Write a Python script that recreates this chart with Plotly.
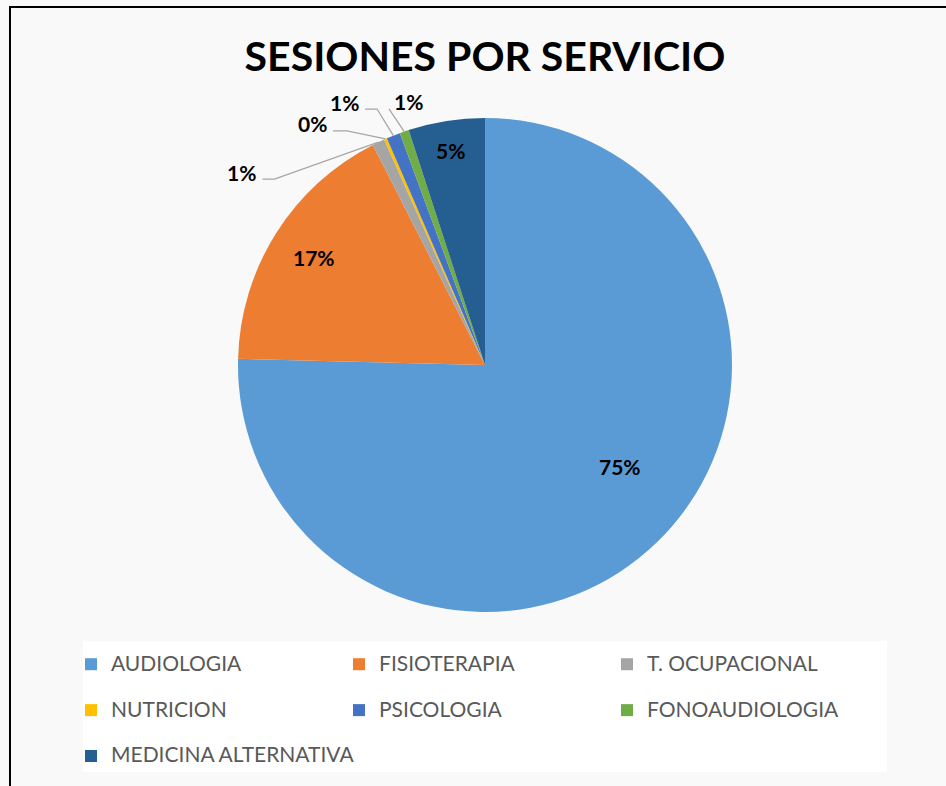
import math
import plotly.graph_objects as go

# ---------------- data ----------------
categories = ["AUDIOLOGIA", "FISIOTERAPIA", "T. OCUPACIONAL", "NUTRICION",
              "PSICOLOGIA", "FONOAUDIOLOGIA", "MEDICINA ALTERNATIVA"]
shares = [75.4, 17.1, 0.8, 0.2, 0.9, 0.6, 5.0]
colors = ["#5B9BD5", "#ED7D31", "#A5A5A5", "#FFC000", "#4472C4", "#70AD47", "#255E91"]
title_text = "SESIONES POR SERVICIO"

# ---------------- layout constants (px) ----------------
W, H = 946, 786
CX, CY, R = 485, 365, 247
FONT = "Lato"
LEG_FONT = "Lato"

# inside labels: (radius fraction, angle tweak in degrees)
inside_style = {0: (0.685, -8.7), 1: (0.82, 0.0), 6: (0.88, 0.0)}
# outside labels: (elbow offset from slice edge px, horizontal tail px, side)
outside_style = {2: ((-104, 37), -12, "right"),
                 3: ((-38.5, -8), -14, "right"),
                 4: ((-16.3, -26.6), -12, "right"),
                 5: ((-15.3, -22.6), 0, "left")}


def px(x):
    return x / W


def py(y):
    return 1 - y / H


total = sum(shares)
pcts = [round(v / total * 100) for v in shares]
mids = []
acc = 0.0
for v in shares:
    a = v / total * 360
    mids.append(acc + a / 2)
    acc += a


def polar(theta_deg, r):
    t = math.radians(theta_deg)
    return CX + r * math.sin(t), CY - r * math.cos(t)


fig = go.Figure()
fig.add_trace(go.Pie(
    labels=[f"<span style='font-size:21px'>{c}</span><br> " for c in categories],
    values=shares,
    sort=False,
    direction="clockwise",
    rotation=0,
    marker=dict(colors=colors, line=dict(width=0)),
    textinfo="none",
    hoverinfo="percent",
    domain=dict(x=[px(CX - R), px(CX + R)], y=[py(CY + R), py(CY - R)]),
))

annotations = []
shapes = []

# chart frame and legend panel
shapes.append(dict(type="rect", xref="paper", yref="paper",
                   x0=px(83), x1=px(887), y0=py(772), y1=py(641),
                   fillcolor="white", line=dict(width=0), layer="below"))
shapes.append(dict(type="line", xref="paper", yref="paper",
                   x0=px(10), x1=px(10), y0=py(7), y1=py(790),
                   line=dict(color="black", width=2)))
shapes.append(dict(type="line", xref="paper", yref="paper",
                   x0=px(9), x1=px(950), y0=py(7), y1=py(7),
                   line=dict(color="black", width=2)))

for i, (fr, dt) in inside_style.items():
    x, y = polar(mids[i] + dt, R * fr)
    annotations.append(dict(x=px(x), y=py(y), xref="paper", yref="paper",
                            text=f"<b>{pcts[i]}%</b>", showarrow=False,
                            font=dict(family=FONT, size=21, color="black"),
                            xanchor="center", yanchor="middle"))

for i, ((ex, ey), tail, side) in outside_style.items():
    x0, y0 = polar(mids[i], R)
    x1, y1 = x0 + ex, y0 + ey
    x2, y2 = x1 + tail, y1
    shapes.append(dict(type="path", xref="paper", yref="paper",
                       path=f"M {px(x0)},{py(y0)} L {px(x1)},{py(y1)} L {px(x2)},{py(y2)}",
                       line=dict(color="#A6A6A6", width=1.3)))
    if side == "right":
        tx, xa = x2 - 4, "right"
    else:
        tx, xa = x2 + 3, "left"
    annotations.append(dict(x=px(tx), y=py(y2 - 7), xref="paper", yref="paper",
                            text=f"<b>{pcts[i]}%</b>", showarrow=False,
                            font=dict(family=FONT, size=21, color="black"),
                            xanchor=xa, yanchor="middle"))

fig.update_layout(
    width=W, height=H,
    margin=dict(l=0, r=0, t=0, b=0, autoexpand=False),
    paper_bgcolor="#F9F9F9",
    plot_bgcolor="#F9F9F9",
    title=dict(text=f"<b>{title_text}</b>", x=px(485), xanchor="center",
               y=py(57), yanchor="middle", yref="paper",
               font=dict(family=FONT, size=41, color="black")),
    legend=dict(orientation="h", x=px(71), xanchor="left", y=py(647), yanchor="top",
                entrywidth=223, entrywidthmode="pixels",
                font=dict(family=LEG_FONT, size=16.5, color="#595959"),
                valign="top", bgcolor="rgba(0,0,0,0)"),
    showlegend=True,
    annotations=annotations,
    shapes=shapes,
)

fig.write_html("out.html", config={"displayModeBar": False},
               post_script="document.body.style.margin='0';document.body.style.overflow='hidden';")
